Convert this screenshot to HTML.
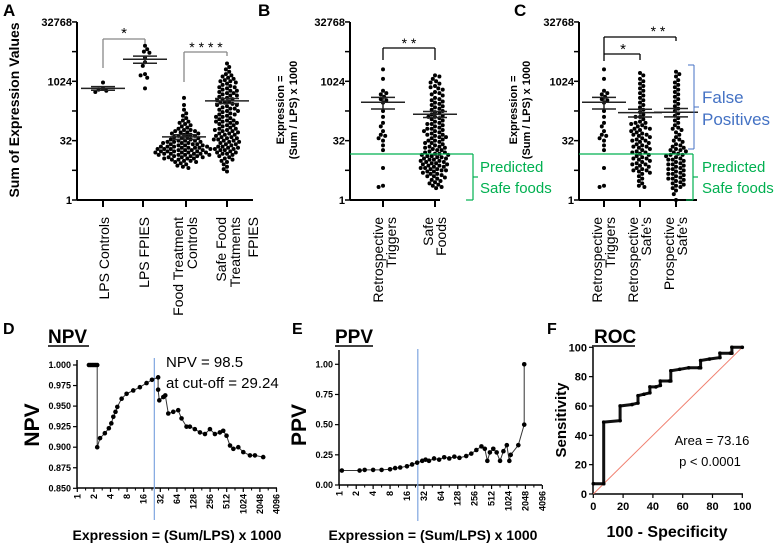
<!DOCTYPE html>
<html><head><meta charset="utf-8"><style>
html,body{margin:0;padding:0;background:#fff;}
svg{display:block;font-family:"Liberation Sans",Arial,sans-serif;}
</style></head><body>
<svg id="fig" width="778" height="543" viewBox="0 0 778 543"></svg>
<script>
// ---------- DATA (log2 of expression values) ----------
const lpsControlsLog2 = [9.4, 9.1, 9.2, 9.3, 9.9];
const lpsFpiesLog2 = [13.0, 12.7, 12.4, 12.5, 12.0, 11.6, 11.3, 10.5, 10.3, 10.6, 9.4];
const foodCtrlLog2 = [8.6,8.0,7.6,7.3,7.1,6.9,6.7,6.6,6.5,6.4,6.3,6.2,6.1,6.0,5.9,5.9,5.8,5.8,5.7,5.7,5.6,5.6,5.5,5.5,5.4,5.4,5.3,5.3,5.2,5.2,5.1,5.1,5.0,5.0,5.0,4.9,4.9,4.9,4.8,4.8,4.8,4.7,4.7,4.7,4.6,4.6,4.6,4.5,4.5,4.5,4.5,4.4,4.4,4.4,4.4,4.3,4.3,4.3,4.3,4.2,4.2,4.2,4.2,4.1,4.1,4.1,4.1,4.0,4.0,4.0,4.0,3.9,3.9,3.9,3.9,3.8,3.8,3.8,3.8,3.7,3.7,3.7,3.6,3.6,3.6,3.5,3.5,3.5,3.4,3.4,3.3,3.3,3.2,3.2,3.1,3.0,2.9,2.8,2.7];
const safeFoodFpiesLog2 = [11.5,11.2,11.0,10.8,10.6,10.5,10.4,10.3,10.2,10.1,10.0,10.0,9.9,9.8,9.7,9.6,9.5,9.5,9.4,9.3,9.2,9.1,9.0,9.0,8.9,8.8,8.7,8.6,8.5,8.5,8.4,8.3,8.2,8.1,8.0,8.0,7.9,7.8,7.7,7.6,7.5,7.5,7.4,7.3,7.2,7.1,7.0,7.0,6.9,6.8,6.7,6.6,6.5,6.5,6.4,6.3,6.2,6.1,6.0,6.0,5.9,5.8,5.7,5.6,5.5,5.5,5.4,5.3,5.2,5.1,5.0,5.0,4.9,4.8,4.7,4.6,4.5,4.5,4.4,4.3,4.2,4.1,4.0,4.0,3.9,3.8,3.7,3.6,3.5,3.4,3.3,3.2,3.0,2.8,2.6,2.4,5.8,5.6,5.3,5.1,4.9,4.7,4.4,4.2,6.3,6.7,7.2,7.7,8.2,9.2,8.8,4.3,3.9,5.2,5.9,6.6];
const triggersLog2 = [11.0,10.2,9.2,9.0,8.9,8.7,8.5,8.4,8.2,7.5,7.0,6.5,6.2,5.8,5.5,5.4,5.2,5.0,4.6,4.2,2.7,1.2,1.1];
const safeFoodsBLog2 = [10.5,10.4,10.2,10.0,9.9,9.8,9.6,9.5,9.4,9.3,9.1,9.0,8.9,8.8,8.6,8.5,8.4,8.3,8.2,8.1,8.0,7.9,7.8,7.7,7.6,7.5,7.4,7.3,7.2,7.1,7.0,6.9,6.8,6.7,6.6,6.5,6.4,6.3,6.2,6.1,6.0,6.0,5.9,5.8,5.7,5.6,5.5,5.5,5.4,5.3,5.2,5.1,5.0,5.0,4.9,4.8,4.7,4.6,4.5,4.5,4.4,4.3,4.2,4.1,4.0,4.0,3.9,3.8,3.8,3.7,3.6,3.6,3.5,3.4,3.4,3.3,3.2,3.2,3.1,3.0,3.0,2.9,2.8,2.8,2.7,2.6,2.6,2.5,2.4,2.4,2.3,2.2,2.2,2.1,2.0,2.0,1.9,1.8,1.7,1.6,1.5,1.4,1.3,1.2,1.1,1.0,4.2,3.9,3.5,3.1,2.7,4.8,5.3,5.8,6.4,7.0,3.3,2.9,2.5,4.4,3.7];
const retroSafesLog2 = [10.7,10.5,10.2,10.0,9.8,9.6,9.4,9.2,9.0,8.8,8.6,8.4,8.2,8.0,7.8,7.6,7.4,7.2,7.0,6.8,6.6,6.5,6.4,6.3,6.2,6.1,6.0,5.9,5.8,5.7,5.6,5.5,5.4,5.3,5.2,5.1,5.0,4.9,4.8,4.7,4.6,4.5,4.4,4.3,4.2,4.1,4.0,3.9,3.8,3.7,3.6,3.5,3.4,3.3,3.2,3.1,3.0,2.9,2.8,2.7,2.6,2.5,2.4,2.3,2.2,2.0,1.8,1.6,1.4,1.2,1.1,5.5,5.0,4.5,4.0,3.5,6.0,6.5,7.0,3.0,2.5];
const prospSafesLog2 = [10.8,10.6,10.4,10.1,9.9,9.7,9.5,9.3,9.1,8.9,8.7,8.5,8.3,8.1,7.9,7.7,7.5,7.3,7.1,6.9,6.7,6.5,6.3,6.1,5.9,5.7,5.5,5.3,5.1,4.9,4.7,4.5,4.4,4.3,4.2,4.1,4.0,3.9,3.8,3.7,3.6,3.5,3.4,3.3,3.2,3.1,3.0,2.9,2.8,2.7,2.6,2.5,2.4,2.3,2.2,2.1,2.0,1.9,1.8,1.7,1.6,1.5,1.4,1.3,1.2,1.1,1.0,0.8,0.5,0.0,4.6,4.2,3.8,3.4,3.0,2.6,2.2,1.8,6.0,5.0];
const topTickLabels = ["1","32","1024","32768"];
// NPV curve (x = log2 expression)
const npvXLog2 = [0.7,0.8,0.9,1.0,1.1,1.2,1.2,1.37,1.66,1.9,2.05,2.17,2.3,2.41,2.67,2.97,3.37,3.77,4.17,4.5,4.87,4.87,4.94,5.18,5.3,5.48,5.78,6.08,6.28,6.58,6.78,7.08,7.39,7.69,7.99,8.29,8.59,8.79,8.99,9.2,9.4,9.7,10.0,10.4,10.7,11.2];
const npvValues = [1.0,1.0,1.0,1.0,1.0,1.0,0.900,0.911,0.917,0.923,0.929,0.937,0.943,0.949,0.959,0.965,0.969,0.973,0.978,0.982,0.985,0.970,0.957,0.961,0.963,0.941,0.943,0.945,0.935,0.925,0.925,0.922,0.918,0.916,0.922,0.916,0.918,0.920,0.914,0.902,0.898,0.900,0.894,0.890,0.890,0.888];
const npvTicks = [0.850,0.875,0.900,0.925,0.950,0.975,1.000];
// PPV curve
const ppvXLog2 = [0.15,1.2,1.5,2.0,2.5,3.0,3.3,3.6,4.0,4.3,4.6,4.9,5.1,5.3,5.6,5.9,6.2,6.5,6.8,7.1,7.5,7.8,8.1,8.4,8.6,8.75,8.9,9.1,9.3,9.5,9.7,9.9,10.05,10.13,10.58,10.93,10.93];
const ppvValues = [0.12,0.12,0.125,0.125,0.125,0.13,0.14,0.145,0.155,0.17,0.185,0.2,0.21,0.2,0.22,0.21,0.23,0.22,0.235,0.225,0.24,0.26,0.29,0.32,0.30,0.20,0.27,0.30,0.27,0.20,0.28,0.33,0.20,0.25,0.33,0.50,1.0];
const ppvTicks = [0,0.25,0.5,0.75,1.0];
const expTickLabels = ["1","2","4","8","16","32","64","128","256","512","1024","2048","4096"];
// ROC
const rocSpecX = [0,7,7,18,18,26,30,30,34,38,38,42,45,45,51,52,52,58,64,71,72,72,78,85,85,92,93,93,100];
const rocSens  = [7,7,49,50,60,61,62,67,68,69,73,73,74,77,77,77,84,85,86,86,86,91,92,93,96,96,96,100,100];
const rocTicks = [0,20,40,60,80,100];
const cutoffLineLog2 = 4.64;

// ---------- helpers ----------
const NS="http://www.w3.org/2000/svg";
const svg=document.getElementById('fig');
function el(tag,attrs,parent,text){const e=document.createElementNS(NS,tag);for(const k in attrs)e.setAttribute(k,attrs[k]);if(text!==undefined)e.textContent=text;(parent||svg).appendChild(e);return e;}
function line(x1,y1,x2,y2,stroke,w,name,parent){const e=el('line',{x1,y1,x2,y2,stroke,'stroke-width':w},parent);

return e;}
function txt(x,y,s,attrs,name,parent){const e=el('text',Object.assign({x,y},attrs),parent,s);

return e;}
function group(name){const g=el('g',{});

return g;}

// ---------- top panels ----------
const topY = e => 200 - e*11.87;
function logAxis(g,x0,x1,name){
  line(x0,22,x0,200,'#000',2,name+'-y-axis',g);
  line(x0,200,x1,200,'#000',2,name+'-x-axis',g);
  for(let k=0;k<=6;k++){const y=topY(k*2.5);line(x0-5,y,x0,y,'#000',1.5,name+'-y-tick',g);}
  topTickLabels.forEach((s,i)=>txt(x0-5,topY(i*5)+4,s,{'text-anchor':'end','font-size':11,'font-weight':'bold'},name+'-y-tick-label',g));
}
function swarm(g,vals,cx,name,r){
  r=r||2;
  const pts=vals.map(v=>({v,y:topY(v)})).sort((a,b)=>a.y-b.y);
  const placed=[];const d=2*r*0.95;
  pts.forEach((p,idx)=>{
    let off=0;
    const sgn = idx%2?1:-1;
    for(let k=0;k<120;k++){
      const cand = k===0?0:(k%2? sgn:-sgn)*Math.ceil(k/2)*1.1;
      if(!placed.some(q=>Math.hypot(q.x-(cx+cand),q.y-p.y)<d)){off=cand;break;}
    }
    placed.push({x:cx+off,y:p.y});
    const c=el('circle',{cx:cx+off,cy:p.y,r,fill:'#000'},g);
    
    
  });
  const raw=vals.map(v=>Math.pow(2,v));
  const m=raw.reduce((a,b)=>a+b,0)/raw.length;
  const sd=Math.sqrt(raw.reduce((a,b)=>a+(b-m)*(b-m),0)/(raw.length-1));
  const sem=sd/Math.sqrt(raw.length);
  const ym=topY(Math.log2(m)), yh=topY(Math.log2(m+sem)), yl=topY(Math.log2(Math.max(m-sem,1)));
  line(cx-22,ym,cx+22,ym,'#222',1.5,name+'-mean-line',g);
  line(cx,yh,cx,yl,'#222',1.5,name+'-sem-bar',g);
  line(cx-12,yh,cx+12,yh,'#222',1.5,name+'-sem-cap-upper',g);
  line(cx-12,yl,cx+12,yl,'#222',1.5,name+'-sem-cap-lower',g);
}
function catLabel(g,x,lines,name,fs){
  lines.forEach(([s,bx])=>txt(0,0,s,{transform:`translate(${bx},217) rotate(-90)`,'text-anchor':'end','font-size':fs||14},name,g));
}
function tickDown(g,x,name){line(x,200,x,207,'#000',2,name,g);}

// Panel A
{
  const g=group('panel-a');
  txt(3,16,'A',{'font-size':17,'font-weight':'bold'},'panel-a-letter',g);
  txt(0,0,'Sum of Expression Values',{transform:'translate(19,110) rotate(-90)','text-anchor':'middle','font-size':14,'font-weight':'bold'},'panel-a-y-axis-title',g);
  logAxis(g,77,253,'panel-a');
  const cats=[103,143,186,227];
  cats.forEach(x=>tickDown(g,x,'panel-a-category-tick'));
  swarm(g,lpsControlsLog2,103,'lps-controls');
  swarm(g,lpsFpiesLog2,145,'lps-fpies');
  swarm(g,foodCtrlLog2,184,'food-treatment-controls');
  swarm(g,safeFoodFpiesLog2,227,'safe-food-treatments-fpies');
  catLabel(g,103,[['LPS Controls',109]],'category-label-lps-controls');
  catLabel(g,143,[['LPS FPIES',149]],'category-label-lps-fpies');
  catLabel(g,186,[['Food Treatment',183],['Controls',197]],'category-label-food-treatment-controls');
  catLabel(g,227,[['Safe Food',226],['Treatments',240],['FPIES',258]],'category-label-safe-food-fpies');
  const gr='#888';
  line(103,39,145,39,gr,1.3,'sig-bracket-a1',g);line(103,39,103,68,gr,1.3,'sig-bracket-a1-left',g);line(145,39,145,44,gr,1.3,'sig-bracket-a1-right',g);
  txt(124,38,'*',{'text-anchor':'middle','font-size':15},'sig-star-a1',g);
  line(184,52,227,52,gr,1.3,'sig-bracket-a2',g);line(184,52,184,82,gr,1.3,'sig-bracket-a2-left',g);line(227,52,227,56,gr,1.3,'sig-bracket-a2-right',g);
  txt(206,52,'* * * *',{'text-anchor':'middle','font-size':14},'sig-star-a2',g);
}
// Panel B
{
  const g=group('panel-b');
  txt(258,16,'B',{'font-size':17,'font-weight':'bold'},'panel-b-letter',g);
  txt(0,0,'Expression =',{transform:'translate(284,110) rotate(-90)','text-anchor':'middle','font-size':11,'font-weight':'bold'},'panel-b-y-axis-title',g);
  txt(0,0,'(Sum / LPS) x 1000',{transform:'translate(297,110) rotate(-90)','text-anchor':'middle','font-size':11,'font-weight':'bold'},'panel-b-y-axis-title',g);
  logAxis(g,350,440,'panel-b');
  [383,435].forEach(x=>tickDown(g,x,'panel-b-category-tick'));
  swarm(g,triggersLog2,383,'b-retrospective-triggers');
  swarm(g,safeFoodsBLog2,435,'b-safe-foods');
  catLabel(g,383,[['Retrospective',383],['Triggers',396]],'category-label-retrospective-triggers');
  catLabel(g,435,[['Safe',433],['Foods',446]],'category-label-safe-foods');
  line(383,48,435,48,'#000',1.3,'sig-bracket-b',g);line(383,48,383,60,'#000',1.3,'sig-bracket-b-left',g);line(435,48,435,60,'#000',1.3,'sig-bracket-b-right',g);
  txt(409,48,'* *',{'text-anchor':'middle','font-size':14},'sig-star-b',g);
  const gn='#00b050';
  line(350,154,473,154,gn,1.2,'predicted-safe-threshold-b',g);
  line(473,154,473,200,gn,1.2,'predicted-safe-bracket-b',g);line(466,200,473,200,gn,1.2,'predicted-safe-bracket-b-bottom',g);line(473,177,478,177,gn,1.2,'predicted-safe-bracket-b-nub',g);
  txt(480,172,'Predicted',{'font-size':15,fill:gn},'predicted-safe-label-b',g);
  txt(480,193,'Safe foods',{'font-size':15,fill:gn},'predicted-safe-label-b',g);
}
// Panel C
{
  const g=group('panel-c');
  txt(514,16,'C',{'font-size':17,'font-weight':'bold'},'panel-c-letter',g);
  txt(0,0,'Expression =',{transform:'translate(517,110) rotate(-90)','text-anchor':'middle','font-size':11,'font-weight':'bold'},'panel-c-y-axis-title',g);
  txt(0,0,'(Sum / LPS) x 1000',{transform:'translate(530,110) rotate(-90)','text-anchor':'middle','font-size':11,'font-weight':'bold'},'panel-c-y-axis-title',g);
  logAxis(g,579,697,'panel-c');
  [604,640,676].forEach(x=>tickDown(g,x,'panel-c-category-tick'));
  swarm(g,triggersLog2,604,'c-retrospective-triggers');
  swarm(g,retroSafesLog2,640,'c-retrospective-safes');
  swarm(g,prospSafesLog2,676,'c-prospective-safes');
  catLabel(g,604,[['Retrospective',602],['Triggers',615]],'category-label-c-triggers');
  catLabel(g,640,[['Retrospective',638],['Safe\u2019s',651]],'category-label-c-retro-safes');
  catLabel(g,676,[['Prospective',674],['Safe\u2019s',687]],'category-label-c-prosp-safes');
  line(604,37,676,37,'#000',1.3,'sig-bracket-c2',g);line(604,37,604,61,'#000',1.3,'sig-bracket-c2-left',g);line(676,37,676,41,'#000',1.3,'sig-bracket-c2-right',g);
  txt(658,36,'* *',{'text-anchor':'middle','font-size':14},'sig-star-c2',g);
  line(604,54,640,54,'#000',1.3,'sig-bracket-c1',g);line(640,54,640,60,'#000',1.3,'sig-bracket-c1-right',g);
  txt(623,54,'*',{'text-anchor':'middle','font-size':15},'sig-star-c1',g);
  const gn='#00b050', bl='#4472c4';
  line(579,154,693,154,gn,1.2,'predicted-safe-threshold-c',g);
  line(693,154,693,200,gn,1.2,'predicted-safe-bracket-c',g);line(686,200,693,200,gn,1.2,'predicted-safe-bracket-c-bottom',g);line(693,177,698,177,gn,1.2,'predicted-safe-bracket-c-nub',g);
  txt(702,172,'Predicted',{'font-size':15,fill:gn},'predicted-safe-label-c',g);
  txt(702,193,'Safe foods',{'font-size':15,fill:gn},'predicted-safe-label-c',g);
  line(694,65,694,149,bl,1,'false-positive-bracket',g);line(688,65,694,65,bl,1,'false-positive-bracket-top',g);line(688,149,694,149,bl,1,'false-positive-bracket-bottom',g);line(694,107,699,107,bl,1,'false-positive-bracket-nub',g);
  txt(702,103,'False',{'font-size':17,fill:bl},'false-positives-label',g);
  txt(702,125,'Positives',{'font-size':17,fill:bl},'false-positives-label',g);
}

// ---------- bottom panels ----------
function expAxis(g,x0,x1,y0,sx,name){
  line(x0,y0,x1,y0,'#000',1.5,name+'-x-axis',g);
  expTickLabels.forEach((s,i)=>{
    const x=sx(i);
    line(x,y0,x,y0+4,'#000',1.2,name+'-x-tick',g);
    if(i<12) line(sx(i+0.5),y0,sx(i+0.5),y0+2.5,'#000',1,name+'-x-minor-tick',g);
    txt(0,0,s,{transform:`translate(${x+3},${y0+6}) rotate(-90)`,'text-anchor':'end','font-size':9,'font-weight':'bold'},name+'-x-tick-label',g);
  });
}
function curve(g,xs,ys,sx,sy,name,col,r){
  const d=xs.map((x,i)=>(i?'L':'M')+sx(x).toFixed(1)+','+sy(ys[i]).toFixed(1)).join(' ');
  const p=el('path',{d,fill:'none',stroke:col||'#333',"stroke-width":1},g);
  
  
  xs.forEach((x,i)=>{const c=el('circle',{cx:sx(x),cy:sy(ys[i]),r:r||2.3,fill:'#000'},g);
    
    });
  return p;
}
// Panel D
{
  const g=group('panel-d');
  const sx=v=>77.3+v*16.6, sy=v=>365+(1-v)/0.15*123.3;
  txt(3,334,'D',{'font-size':16,'font-weight':'bold'},'panel-d-letter',g);
  txt(48,343,'NPV',{'font-size':19,'font-weight':'bold'},'panel-d-title',g);
  line(48,346,89,346,'#000',1.5,'panel-d-title-underline',g);
  txt(0,0,'NPV',{transform:'translate(39,425) rotate(-90)','text-anchor':'middle','font-size':21,'font-weight':'bold'},'panel-d-y-axis-title',g);
  line(77,360,77,488,'#000',1.5,'panel-d-y-axis',g);
  npvTicks.forEach(t=>{line(73,sy(t),77,sy(t),'#000',1.2,'panel-d-y-tick',g);txt(71,sy(t)+3,t.toFixed(3),{'text-anchor':'end','font-size':9,'font-weight':'bold'},'panel-d-y-tick-label',g);});
  expAxis(g,77,277,488,sx,'panel-d');
  line(sx(cutoffLineLog2),358,sx(cutoffLineLog2),520,'#7fa6e0',1.2,'panel-d-cutoff-line',g);
  curve(g,npvXLog2,npvValues,sx,sy,'npv');
  txt(166,367,'NPV = 98.5',{'font-size':15},'npv-annotation',g);
  txt(166,388,'at cut-off = 29.24',{'font-size':15},'npv-cutoff-annotation',g);
  txt(177,540,'Expression = (Sum/LPS) x 1000',{'text-anchor':'middle','font-size':14,'font-weight':'bold'},'panel-d-x-axis-title',g);
}
// Panel E
{
  const g=group('panel-e');
  const sx=v=>339.3+v*16.92, sy=v=>485-v*120.7;
  txt(292,334,'E',{'font-size':16,'font-weight':'bold'},'panel-e-letter',g);
  txt(335,343,'PPV',{'font-size':19,'font-weight':'bold'},'panel-e-title',g);
  line(335,346,373,346,'#000',1.5,'panel-e-title-underline',g);
  txt(0,0,'PPV',{transform:'translate(306,425) rotate(-90)','text-anchor':'middle','font-size':21,'font-weight':'bold'},'panel-e-y-axis-title',g);
  line(339,350,339,485,'#000',1.5,'panel-e-y-axis',g);
  ppvTicks.forEach(t=>{line(335,sy(t),339,sy(t),'#000',1.2,'panel-e-y-tick',g);txt(333,sy(t)+3,t.toFixed(2),{'text-anchor':'end','font-size':9,'font-weight':'bold'},'panel-e-y-tick-label',g);});
  expAxis(g,339,542,485,sx,'panel-e');
  line(sx(cutoffLineLog2),349,sx(cutoffLineLog2),521,'#7fa6e0',1.2,'panel-e-cutoff-line',g);
  curve(g,ppvXLog2,ppvValues,sx,sy,'ppv');
  txt(433,540,'Expression = (Sum/LPS) x 1000',{'text-anchor':'middle','font-size':14,'font-weight':'bold'},'panel-e-x-axis-title',g);
}
// Panel F
{
  const g=group('panel-f');
  const sx=v=>593.3+v*1.49, sy=v=>494-v*1.467;
  txt(547,334,'F',{'font-size':16,'font-weight':'bold'},'panel-f-letter',g);
  txt(594,343,'ROC',{'font-size':19,'font-weight':'bold'},'panel-f-title',g);
  line(594,346,635,346,'#000',1.5,'panel-f-title-underline',g);
  txt(0,0,'Sensitivity',{transform:'translate(566,420) rotate(-90)','text-anchor':'middle','font-size':15,'font-weight':'bold'},'panel-f-y-axis-title',g);
  line(593,345,593,494,'#000',1.5,'panel-f-y-axis',g);
  line(593,494,743,494,'#000',1.5,'panel-f-x-axis',g);
  rocTicks.forEach(t=>{
    line(589,sy(t),593,sy(t),'#000',1.2,'panel-f-y-tick',g);
    txt(587,sy(t)+4,String(t),{'text-anchor':'end','font-size':11,'font-weight':'bold'},'panel-f-y-tick-label',g);
    line(sx(t),494,sx(t),498,'#000',1.2,'panel-f-x-tick',g);
    txt(sx(t),510,String(t),{'text-anchor':'middle','font-size':11,'font-weight':'bold'},'panel-f-x-tick-label',g);
  });
  line(sx(0),sy(0),sx(100),sy(100),'#f08070',1,'panel-f-reference-line',g);
  const p=curve(g,rocSpecX,rocSens,sx,sy,'roc','#111',1.8);
  p.setAttribute('stroke-width','3');
  txt(712,445,'Area = 73.16',{'text-anchor':'middle','font-size':13},'roc-area-annotation',g);
  txt(710,466,'p < 0.0001',{'text-anchor':'middle','font-size':13},'roc-p-annotation',g);
  txt(667,537,'100 - Specificity',{'text-anchor':'middle','font-size':16,'font-weight':'bold'},'panel-f-x-axis-title',g);
}
</script>
</body></html>
